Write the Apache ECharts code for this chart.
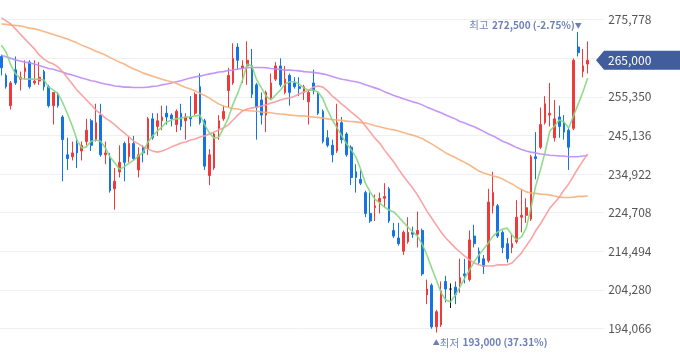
<!DOCTYPE html>
<html><head><meta charset="utf-8">
<script src="https://cdn.jsdelivr.net/npm/echarts@6/dist/echarts.min.js"></script>
<style>html,body{margin:0;padding:0;background:#fff}#c{width:680px;height:358px}</style>
</head><body><div id="c"></div>
<script>
// [open, close, low, high]
const candles = [
[266000,263000,261000,266500],[261000,258000,257500,261500],[253000,259000,252000,259500],[262500,259000,258500,266000],[260000,260500,257000,262000],
[262000,263000,260000,265000],[264500,258000,257500,265000],[259000,259500,258500,265000],[259500,260500,258500,264500],[262000,258000,257000,262500],
[258000,253000,252500,258500],[253000,256500,248000,256500],[256000,253000,252500,256500],[250000,244000,233000,250500],[240000,239000,236000,244500],
[239500,240500,238500,243500],[243000,240500,236500,244500],[241000,242500,238500,243500],[243500,246500,242500,249500],[249000,242500,241000,249500],
[244000,248500,243500,253500],[250500,240000,239500,253500],[240000,240500,237500,243500],[239000,230500,230000,240500],[231000,233000,225500,236500],
[235500,238000,234000,242500],[243000,238000,233000,243500],[239500,243000,238000,245000],[243000,239000,238500,245000],[236000,240000,234000,242000],
[242000,240500,238000,242500],[241500,249500,240000,250000],[249500,244500,244000,251000],[247500,249000,245000,251000],[249000,250000,246500,253000],
[251000,250000,248000,253000],[250500,249500,247500,251000],[248000,251500,246000,252000],[251000,247500,246500,253500],[249000,250000,244000,251000],
[250000,249500,247500,255500],[251000,256000,250500,256500],[258000,248500,248000,261500],[249000,237000,236000,249500],[234500,240000,232000,241500],
[236500,245500,236000,246000],[247000,249000,244000,250500],[249500,251500,249000,253000],[257000,261000,252500,263000],[259000,265500,258500,269500],
[268500,265000,262500,269500],[263000,263500,259000,265000],[263500,265000,258500,270000],[263500,256000,255000,268000],[258500,252500,244000,259000],
[254500,250500,248000,256500],[250500,256500,246000,257000],[255000,259000,254500,261500],[260000,263500,259500,264500],[263500,258500,258000,265500],
[256500,260000,256000,263500],[261000,256500,253000,261500],[259000,258000,257500,260500],[258000,257500,255500,260500],[256500,258000,254500,258500],
[254000,256500,248000,257000],[259000,257000,256000,262500],[256000,251000,250500,256500],[251500,243500,243000,252000],[244500,242500,242000,246500],
[242500,240000,238000,244000],[241000,248500,240500,253500],[248500,244000,243000,250000],[245500,240000,239500,246000],[242000,234000,232000,242500],
[235500,234000,230000,237500],[233500,232500,232000,236000],[230000,224500,223500,230500],[224500,222500,222000,230000],[226000,226500,222500,229500],
[227500,228500,224500,230000],[228500,229000,226000,232500],[231000,222500,222000,231500],[220000,218500,218000,222000],[218000,216500,216000,222000],
[214500,219500,213500,220000],[217000,219500,216500,223500],[219500,219000,218000,221000],[219000,220000,215500,225000],[220000,208500,208000,220500],
[203000,204500,200500,207000],[205500,194500,194000,206000],[194500,198500,193000,199000],[195000,204000,194500,206500],[206500,204500,201000,208000],
[204500,204500,199500,206000],[205000,203000,200500,206500],[206000,207500,203500,212500],[208500,208000,206000,212500],[207000,217500,206500,220000],
[218500,216500,215500,221500],[214500,211500,211000,215500],[212500,210500,208500,213500],[212000,227500,211500,231000],[226500,230000,224500,235500],
[226500,218500,218000,227000],[219500,215500,214000,220000],[216500,212500,211500,218000],[215500,216500,214000,219000],[217000,223500,216500,228000],
[223500,224000,219500,231000],[224000,226000,222000,228500],[223000,239500,222500,240000],[239500,239000,233500,246000],[242000,248000,241500,252500],
[248500,253500,248000,255500],[250500,251000,247500,259000],[244500,249500,243500,254500],[250000,247500,244500,253000],[248500,246000,244000,250500],
[246500,242000,236000,247000],[247000,265000,246500,265500],[268500,267000,266000,272500],[262000,263500,260500,268000],[264000,265000,261500,270000]
];
const ma5 = [269000,267200,263700,261400,260300,260000,260000,260000,260000,259800,
257900,257100,256100,253700,250800,247600,243900,241800,242100,243600,
243900,243600,241800,239400,237800,236200,236800,237800,238600,239700,
240700,243400,245000,246300,247400,248700,249200,249500,249700,250000,
250000,250300,250500,247900,245800,244400,244700,247100,249700,253400,
256300,259800,264000,263500,259800,257700,255500,254500,255800,257100,
258700,259300,259300,258700,257700,257100,257100,256600,254800,251800,
249200,247100,245000,242900,241300,239400,236200,232500,230200,228300,
227300,226200,225400,224900,223600,222200,220900,219600,218500,216400,
213500,210100,206900,203500,201600,201100,202900,205000,207400,209500,
211700,213500,215100,216700,218500,219600,220400,220600,218800,217500,
218300,220600,225900,231700,236000,240700,246300,247600,249200,248700,
247100,250300,253400,256600,260300];
const ma20 = [276200,275400,274600,273300,271900,270600,269300,268000,266400,265300,
264500,264000,263200,261900,260300,258700,257100,255800,254500,253200,
251800,250800,249700,248900,247900,246800,245800,244700,243600,242900,
242100,241500,241000,240700,241000,241500,242100,242600,243100,243400,
243900,244200,244700,245000,245500,246000,246600,247100,247900,249200,
250500,251600,252100,252400,252600,252900,253200,253700,254000,254500,
254800,255000,255500,256100,256600,257100,257900,258200,257900,256900,
255500,254500,253400,252400,251300,250300,249200,247600,246000,244400,
243100,241300,239700,238100,236200,234400,232800,231200,229400,227300,
225100,223300,221400,219600,218000,216700,215400,214300,213200,212200,
211400,210900,210600,210600,210600,210900,210900,210900,211400,212700,
214000,215900,217700,219900,221700,223800,225900,227300,228800,230700,
232300,234400,236500,238400,240200];
const ma60 = [274600,274500,274300,274200,274100,273800,273500,273300,273000,272600,
272200,271800,271400,271000,270600,270100,269600,269000,268500,268000,
267400,266900,266400,265700,265100,264500,264000,263300,262700,262200,
261600,261200,260800,260400,260000,259600,259300,258900,258300,257800,
257400,256900,256300,255700,255000,254200,253400,252900,252500,252200,
252100,251800,251700,251600,251500,251300,251200,251100,250900,250800,
250700,250500,250400,250300,250300,250100,250000,249900,249700,249500,
249300,249200,249100,248900,248800,248700,248500,248400,248100,247700,
247400,247100,246800,246600,246300,245900,245500,245200,244800,244300,
243600,242900,242100,241300,240500,239900,239300,238600,238000,237300,
236500,235700,235200,234800,234400,234100,233600,232900,232300,231500,
230800,230200,229900,229800,229600,229500,229400,229100,228800,228700,
228700,228800,229000,229000,229100];
const ma120 = [266300,265900,265500,265100,264800,264500,264300,264000,263600,263200,
262800,262600,262200,261800,261400,261100,260700,260300,260000,259600,
259400,259000,258700,258500,258200,258100,257900,257900,257800,257800,
257800,257900,258100,258200,258500,258700,259000,259300,259600,260000,
260300,260600,260800,261100,261400,261600,261900,262000,262300,262400,
262700,262800,263000,263100,263100,263100,263000,262800,262700,262600,
262400,262400,262300,262200,262000,261900,261800,261600,261400,261100,
260700,260300,260000,259800,259500,259300,259000,258500,258100,257700,
257300,256700,256200,255700,255300,254800,254400,254000,253700,253200,
252600,252100,251600,251100,250500,250000,249500,248800,248400,247900,
247400,246800,246200,245500,245000,244300,243600,243100,242500,241900,
241400,241000,240700,240500,240200,240100,239900,239800,239700,239700,
239500,239500,239500,239700,239800];
const yTicks = [194066,204280,214494,224708,234922,245136,255350,265564,275778];
const lastPrice = 265000;
const highIndex = 122, highValue = 272500, highText = '272,500 (-2.75%)';
const lowIndex = 92, lowValue = 193000, lowText = '193,000 (37.31%)';
const emptySlots = 3;

const categories = candles.map((_, i) => String(i + 1));
for (let k = 0; k < emptySlots; k++) categories.push('e' + k);
const step = yTicks[1] - yTicks[0];
const FONT = '"Noto Sans CJK KR", "Noto Sans", sans-serif';
const UP = '#ef3a3c', DOWN = '#1673e6';

function maSeries(name, data, color) {
  return { name, type: 'line', data, showSymbol: false, symbol: 'none', smooth: false,
    lineStyle: { color, width: 1.6, opacity: 0.9 }, z: 3, silent: true };
}
const annRich = {
  a: { fontSize: 10.5, color: '#7083b8', fontFamily: FONT },
  b: { fontSize: 10, color: '#6d80b5', fontFamily: FONT, fontWeight: 'bold' },
  c: { fontSize: 7, color: '#6d80b5', fontFamily: FONT }
};

const chart = echarts.init(document.getElementById('c'), null, { renderer: 'canvas' });
const option = {
  animation: false,
  backgroundColor: '#fff',
  grid: { left: -1, top: -19.125, width: 605.2, height: 386.25, containLabel: false, outerBoundsMode: 'none' },
  xAxis: { type: 'category', data: categories, boundaryGap: true,
    axisLine: { show: false }, axisTick: { show: false }, axisLabel: { show: false }, splitLine: { show: false } },
  yAxis: { type: 'value', position: 'right', min: yTicks[0] - step, max: yTicks[yTicks.length - 1] + step, interval: step,
    axisLine: { show: false }, axisTick: { show: false },
    splitLine: { show: true, lineStyle: { color: '#edf0f4', width: 1 } },
    axisLabel: { show: true, margin: 4, color: '#555', fontSize: 12, fontFamily: FONT,
      formatter: v => v.toLocaleString('en-US') } },
  series: [
    { type: 'candlestick', data: candles, barWidth: 2.2, z: 2,
      itemStyle: { color: UP, color0: DOWN, borderColor: UP, borderColor0: DOWN, borderColorDoji: '#111', borderWidth: 1 },
      markPoint: { symbol: 'circle', symbolSize: 1, silent: true, animation: false,
        itemStyle: { color: 'rgba(0,0,0,0)' },
        data: [
          { coord: [highIndex, highValue], label: { show: true, position: 'inside', align: 'right', verticalAlign: 'bottom', offset: [3.5, -1],
              formatter: '{a|최고} {b|' + highText + '}{c|▼}', rich: annRich } },
          { coord: [lowIndex, lowValue], label: { show: true, position: 'inside', align: 'left', verticalAlign: 'top', offset: [-3.5, 4],
              formatter: '{c|▲}{a|최저} {b|' + lowText + '}', rich: annRich } }
        ] } },
    maSeries('MA120', ma120, '#be8cf6'),
    maSeries('MA60', ma60, '#f6b07a'),
    maSeries('MA20', ma20, '#f89a9a'),
    maSeries('MA5', ma5, '#84d87f')
  ]
};
chart.setOption(option);
const ty = chart.convertToPixel({ yAxisIndex: 0 }, lastPrice);
chart.setOption({ graphic: [
  { type: 'polygon', shape: { points: [[596, ty], [604, ty - 9.5], [680, ty - 9.5], [680, ty + 9.5], [604, ty + 9.5]] },
    style: { fill: '#415d9b' }, z: 100 },
  { type: 'text', x: 608, y: ty, style: { text: lastPrice.toLocaleString('en-US'), fill: '#fff', fontSize: 12, fontFamily: FONT, verticalAlign: 'middle', align: 'left' }, z: 101 }
] });
</script></body></html>
